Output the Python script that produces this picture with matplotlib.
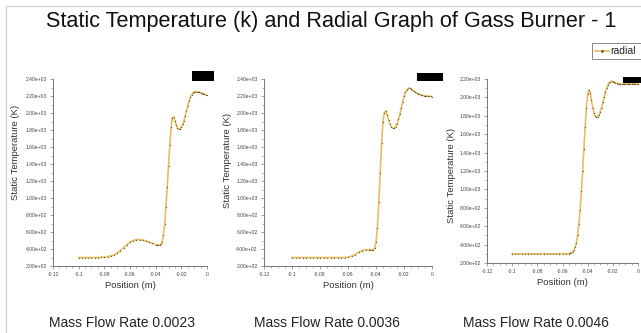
import matplotlib
matplotlib.use("Agg")
import matplotlib.pyplot as plt
from matplotlib.patches import Rectangle
from matplotlib.lines import Line2D
from matplotlib.ticker import MultipleLocator, FuncFormatter

plt.rcParams['font.family'] = ['Liberation Sans', 'DejaVu Sans']
plt.rcParams['axes.unicode_minus'] = False

title = "Static Temperature (k) and Radial Graph of Gass Burner - 1"
captions = ["Mass Flow Rate 0.0023", "Mass Flow Rate 0.0036", "Mass Flow Rate 0.0046"]
series_name = "radial"
xlabel = "Position (m)"
ylabel = "Static Temperature (K)"

# ---- Mass flow rate 0.0023 ----
pos_0023 = [-0.1, -0.0975, -0.095, -0.0925, -0.09, -0.0875, -0.085, -0.0825, -0.08, -0.0775,
            -0.075, -0.0725, -0.07, -0.0675, -0.065, -0.0625, -0.06, -0.0575, -0.055, -0.0525,
            -0.05, -0.0475, -0.045, -0.0425,
            -0.040, -0.039, -0.038, -0.037, -0.036, -0.035, -0.034, -0.033, -0.032, -0.031,
            -0.030, -0.029, -0.028, -0.027, -0.026, -0.025, -0.024, -0.023, -0.022, -0.021,
            -0.020, -0.019, -0.018, -0.017, -0.016, -0.015, -0.014, -0.013, -0.012, -0.011,
            -0.010, -0.009, -0.008, -0.007, -0.006, -0.005, -0.004, -0.003, -0.002, -0.001, 0.0]
temp_0023 = [300, 300, 300, 300, 300, 300, 300, 302, 305, 310,
             318, 330, 350, 380, 415, 450, 480, 500, 510, 510,
             505, 495, 480, 465,
             452, 448, 446, 447, 455, 480, 560, 700, 900, 1130,
             1380, 1620, 1830, 1945, 1950, 1910, 1860, 1825, 1810, 1812,
             1830, 1865, 1910, 1965, 2025, 2085, 2140, 2185, 2215, 2235,
             2247, 2252, 2252, 2249, 2244, 2238, 2232, 2226, 2221, 2217, 2213]

# ---- Mass flow rate 0.0036 ----
pos_0036 = [-0.1, -0.0975, -0.095, -0.0925, -0.09, -0.0875, -0.085, -0.0825, -0.08, -0.0775,
            -0.075, -0.0725, -0.07, -0.0675, -0.065, -0.0625, -0.06, -0.0575, -0.055, -0.0525,
            -0.05, -0.0475,
            -0.045, -0.044, -0.043, -0.042, -0.041, -0.040, -0.039, -0.038, -0.037, -0.036,
            -0.035, -0.034, -0.033, -0.032, -0.031, -0.030, -0.029, -0.028, -0.027, -0.026,
            -0.025, -0.024, -0.023, -0.022, -0.021, -0.020, -0.019, -0.018, -0.017, -0.016,
            -0.015, -0.014, -0.013, -0.012, -0.011, -0.010, -0.009, -0.008, -0.007, -0.006,
            -0.005, -0.004, -0.003, -0.002, -0.001, 0.0]
temp_0036 = [300, 300, 300, 300, 300, 300, 300, 300, 300, 300,
             300, 300, 300, 300, 300, 300, 305, 315, 335, 360,
             380, 390,
             392, 390, 387, 388, 410, 480, 650, 950, 1300, 1650,
             1900, 2005, 2025, 1980, 1920, 1870, 1835, 1820, 1822, 1840,
             1875, 1925, 1985, 2055, 2130, 2195, 2245, 2275, 2290, 2292,
             2285, 2272, 2258, 2245, 2235, 2227, 2220, 2214, 2209, 2205,
             2202, 2200, 2198, 2196, 2195, 2194]

# ---- Mass flow rate 0.0046 ----
pos_0046 = [-0.1, -0.0975, -0.095, -0.0925, -0.09, -0.0875, -0.085, -0.0825, -0.08, -0.0775,
            -0.075, -0.0725, -0.07, -0.0675, -0.065, -0.0625, -0.06, -0.0575,
            -0.055, -0.054, -0.053, -0.052, -0.051, -0.050, -0.049, -0.048, -0.047, -0.046,
            -0.045, -0.044, -0.043, -0.042, -0.041, -0.040, -0.039, -0.038, -0.037, -0.036,
            -0.035, -0.034, -0.033, -0.032, -0.031, -0.030, -0.029, -0.028, -0.027, -0.026,
            -0.025, -0.024, -0.023, -0.022, -0.021, -0.020, -0.019, -0.018, -0.017, -0.016,
            -0.015, -0.014, -0.013, -0.012, -0.011, -0.010, -0.009, -0.008, -0.007, -0.006,
            -0.005, -0.004, -0.003, -0.002, -0.001, 0.0]
temp_0046 = [300, 300, 300, 300, 300, 300, 300, 300, 300, 300,
             300, 300, 300, 300, 300, 300, 300, 301,
             303, 306, 312, 322, 340, 370, 420, 500, 620, 780,
             980, 1200, 1440, 1680, 1890, 2040, 2085, 2050, 1970, 1890,
             1830, 1795, 1785, 1790, 1810, 1845, 1890, 1945, 2000, 2055,
             2100, 2135, 2158, 2170, 2174, 2172, 2167, 2160, 2155, 2150,
             2147, 2145, 2144, 2144, 2145, 2146, 2147, 2148, 2149, 2150,
             2150, 2149, 2148, 2147, 2146, 2145]

positions = [pos_0023, pos_0036, pos_0046]
series = [temp_0023, temp_0036, temp_0046]
ylims = [(200, 2400), (200, 2400), (200, 2200)]

W, H = 641, 333
fig = plt.figure(figsize=(W / 100, H / 100), dpi=100)

def fx(px):
    return px / W

def fy(py):
    return 1 - py / H

# axes boxes in pixels: left, right, top, bottom
boxes = [(53, 207, 79, 266), (264, 432, 79, 266), (487, 638, 79, 263)]
ylabel_pos = [(16, 152), (228, 160), (452, 175)]
caption_x = [122, 327, 536]
line_color = "#E6BE62"
dot_color = "#6a5530"
grey = "#777777"

def yfmt(v, pos):
    return "%.2e" % v

def xfmt(v, pos):
    if abs(v) < 1e-9:
        return "0"
    return "%g" % round(v, 2)

for i, (l, r, t, b) in enumerate(boxes):
    ax = fig.add_axes([fx(l), fy(b), fx(r - l), (b - t) / H])
    ax.plot(positions[i], series[i], color=line_color, lw=1.2, marker='o', ms=0.6,
            mfc=dot_color, mec=dot_color, mew=0.3, zorder=3)
    ax.set_xlim(-0.12, 0)
    ax.set_ylim(*ylims[i])
    ax.xaxis.set_major_locator(MultipleLocator(0.02))
    ax.xaxis.set_minor_locator(MultipleLocator(0.005))
    ax.yaxis.set_major_locator(MultipleLocator(200))
    ax.yaxis.set_minor_locator(MultipleLocator(100))
    ax.yaxis.set_major_formatter(FuncFormatter(yfmt))
    ax.xaxis.set_major_formatter(FuncFormatter(xfmt))
    for s in ['top', 'right']:
        ax.spines[s].set_visible(False)
    for s in ['left', 'bottom']:
        ax.spines[s].set_color(grey)
        ax.spines[s].set_linewidth(0.7)
    ax.tick_params(which='major', length=2.5, width=0.5, color=grey, labelsize=3.6,
                   labelcolor='#444444', pad=2)
    ax.tick_params(which='minor', length=1.2, width=0.4, color=grey)
    ax.set_facecolor('none')
    ax.set_xlabel(xlabel, fontsize=6.8, color='#333333', labelpad=3)
    yl_x, yl_y = ylabel_pos[i]
    fig.text(fx(yl_x), fy(yl_y), ylabel, rotation=90, fontsize=6.8, color='#333333',
             ha='center', va='center')
    fig.text(fx(caption_x[i]), fy(323), captions[i], fontsize=10, color='#222222',
             ha='center', va='center')

# black boxes
for (x0, x1, y0, y1) in [(192, 214, 71, 81), (417, 443, 73, 81), (623, 641, 77, 83)]:
    fig.patches.append(Rectangle((fx(x0), fy(y1)), fx(x1 - x0), (y1 - y0) / H,
                                 transform=fig.transFigure, facecolor='black',
                                 edgecolor='none', zorder=10))

# legend box
fig.patches.append(Rectangle((fx(592), fy(59)), fx(49), 16 / H, transform=fig.transFigure,
                             facecolor='white', edgecolor='#888888', lw=0.7, zorder=10))
fig.add_artist(Line2D([fx(595), fx(602), fx(609)], [fy(51), fy(51), fy(51)], color=line_color,
                      lw=1.2, marker='o', ms=1.0, markevery=[1], mfc=dot_color, mec=dot_color,
                      transform=fig.transFigure, zorder=11))
fig.text(fx(610), fy(51), series_name, fontsize=7.5, color='#222222', ha='left', va='center',
         zorder=11)

# frame lines
fig.add_artist(Line2D([fx(6), fx(6)], [0, fy(6)], color='#cccccc', lw=0.8, transform=fig.transFigure))
fig.add_artist(Line2D([fx(6), 1], [fy(6), fy(6)], color='#cccccc', lw=0.8, transform=fig.transFigure))

fig.text(fx(331), fy(21), title, fontsize=15.6, color='#111111', ha='center', va='center')

fig.savefig("out.png", dpi=100)
